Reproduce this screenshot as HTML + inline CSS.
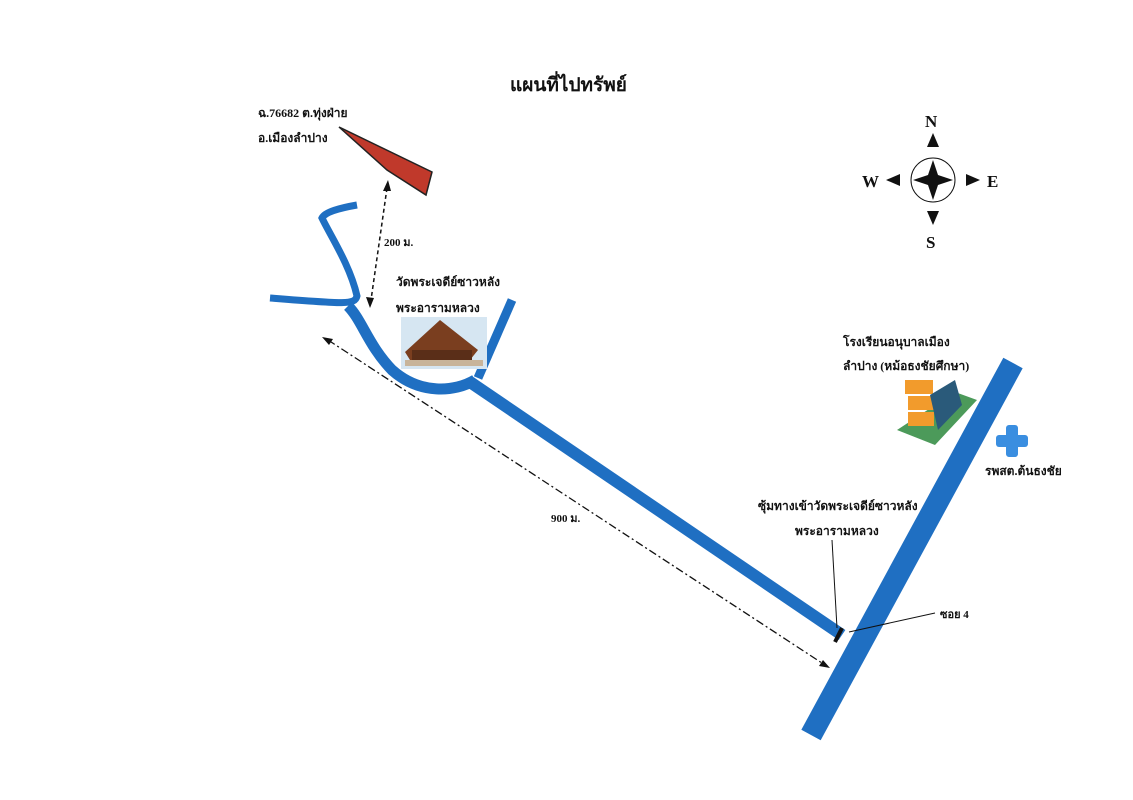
<!DOCTYPE html>
<html><head><meta charset="utf-8"><style>
html,body{margin:0;padding:0;background:#fff;}
svg{display:block;}
text{font-family:"Liberation Serif","Noto Serif CJK SC","Noto Sans CJK SC",serif;font-weight:bold;fill:#111;}
</style></head><body>
<svg width="1133" height="800" viewBox="0 0 1133 800">
<rect width="1133" height="800" fill="#fff"/>
<text x="510" y="91" font-size="19">แผนที่ไปทรัพย์</text>
<text x="258" y="117" font-size="12">ฉ.76682 ต.ทุ่งฝ่าย</text>
<text x="258" y="142" font-size="12">อ.เมืองลำปาง</text>
<polygon points="339,127 432,172 426,195 387,170" fill="#c0392b" stroke="#222" stroke-width="1.5"/>
<!-- 200m -->
<line x1="387" y1="188" x2="371" y2="300" stroke="#111" stroke-width="1.5" stroke-dasharray="4,3"/>
<polygon points="388,180 383,191 391,191" fill="#111"/>
<polygon points="370,308 366,297 374,298" fill="#111"/>
<text x="384" y="246" font-size="11">200 ม.</text>
<!-- roads -->
<g fill="none" stroke="#1f6fc2" stroke-linecap="butt">
<path d="M357,205 C340,208 325,212 322,218 C330,235 350,265 357,296 C355,305 345,304 270,298" stroke-width="7"/>
<path d="M348,306 C362,320 368,345 392,370 C420,395 455,392 475,380" stroke-width="11"/>
<path d="M512,300 L478,378" stroke-width="9"/>
<path d="M470,382 L842,635" stroke-width="12"/>
<path d="M1013,363 L811,735" stroke-width="22"/>
</g>
<!-- temple -->
<rect x="401" y="317" width="86" height="52" fill="#d6e6f2"/>
<polygon points="405,352 440,320 478,350 470,360 410,360" fill="#7a3e1f"/>
<rect x="412" y="350" width="60" height="12" fill="#5a2e18"/>
<rect x="405" y="360" width="78" height="6" fill="#c8b49a"/>
<text x="396" y="286" font-size="12">วัดพระเจดีย์ซาวหลัง</text>
<text x="396" y="312" font-size="12">พระอารามหลวง</text>
<!-- 900m -->
<line x1="328" y1="340" x2="825" y2="665" stroke="#111" stroke-width="1.3" stroke-dasharray="8,3,2,3"/>
<polygon points="322,337 333,339 329,345" fill="#111"/>
<polygon points="830,668 819,666 823,660" fill="#111"/>
<text x="551" y="522" font-size="11">900 ม.</text>
<!-- compass -->
<circle cx="933" cy="180" r="22" fill="none" stroke="#111" stroke-width="1"/>
<polygon points="933,160 938,175 953,180 938,185 933,200 928,185 913,180 928,175" fill="#111"/>
<polygon points="933,133 927,147 939,147" fill="#111"/>
<polygon points="933,225 927,211 939,211" fill="#111"/>
<polygon points="886,180 900,174 900,186" fill="#111"/>
<polygon points="980,180 966,174 966,186" fill="#111"/>
<text x="925" y="127" font-size="17">N</text>
<text x="926" y="248" font-size="17">S</text>
<text x="862" y="187" font-size="17">W</text>
<text x="987" y="187" font-size="17">E</text>
<!-- school -->
<text x="843" y="346" font-size="12">โรงเรียนอนุบาลเมือง</text>
<text x="843" y="370" font-size="12">ลำปาง (หม้อธงชัยศึกษา)</text>
<polygon points="897,430 955,392 977,400 935,445" fill="#4c9a5a"/>
<rect x="905" y="380" width="28" height="14" fill="#f29b2c"/>
<rect x="908" y="396" width="26" height="14" fill="#f29b2c"/>
<rect x="908" y="412" width="26" height="14" fill="#f29b2c"/>
<polygon points="930,395 955,380 962,405 938,430" fill="#2a5a7a"/>
<!-- cross -->
<rect x="1006" y="425" width="12" height="32" rx="3" fill="#3a8ee0"/>
<rect x="996" y="435" width="32" height="12" rx="3" fill="#3a8ee0"/>
<text x="985" y="475" font-size="12">รพสต.ต้นธงชัย</text>
<!-- junction -->
<text x="758" y="510" font-size="12">ซุ้มทางเข้าวัดพระเจดีย์ซาวหลัง</text>
<text x="795" y="535" font-size="12">พระอารามหลวง</text>
<line x1="832" y1="540" x2="837" y2="628" stroke="#111" stroke-width="1"/>
<line x1="835" y1="642" x2="842" y2="628" stroke="#111" stroke-width="4"/>
<line x1="849" y1="632" x2="935" y2="613" stroke="#111" stroke-width="1"/>
<text x="940" y="618" font-size="11">ซอย 4</text>
</svg>
</body></html>
